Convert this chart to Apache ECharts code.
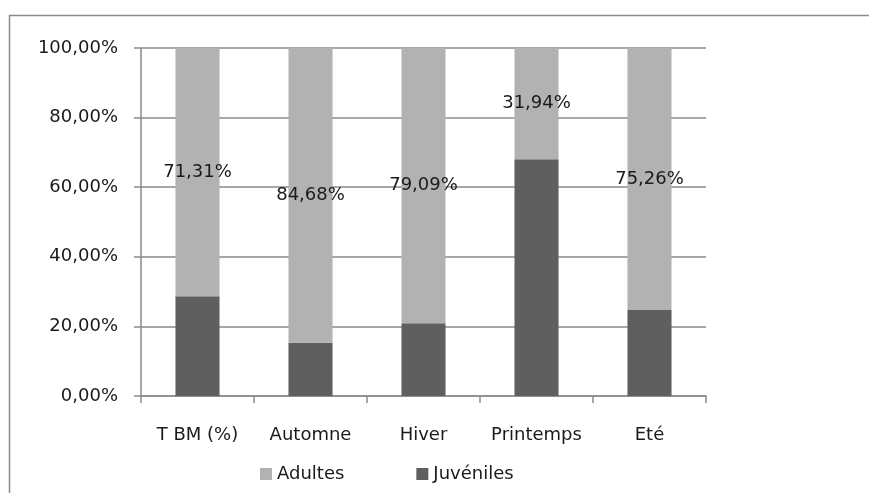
<!DOCTYPE html>
<html>
<head>
<meta charset="utf-8">
<script src="https://cdn.jsdelivr.net/npm/echarts@6/dist/echarts.min.js"></script>
<style>html,body{margin:0;padding:0;background:#fff;}#c{width:869px;height:493px;}</style>
</head>
<body>
<div id="c"></div>
<script>
const categories = ['T BM (%)', 'Automne', 'Hiver', 'Printemps', 'Eté'];
const adultes = [71.31, 84.68, 79.09, 31.94, 75.26];
const juveniles = [28.69, 15.32, 20.91, 68.06, 24.74];
const yTicks = [0, 20, 40, 60, 80, 100];

const FONT = 'DejaVu Sans';
const FS = 18;
const fmt = v => v.toFixed(2).replace('.', ',') + '%';

const chart = echarts.init(document.getElementById('c'), null, {renderer: 'canvas'});
chart.setOption({
  animation: false,
  backgroundColor: '#fff',
  graphic: [{
    type: 'rect',
    shape: {x: 9.5, y: 15.5, width: 900, height: 520},
    style: {fill: 'none', stroke: '#8a8a8a', lineWidth: 1.5},
    silent: true
  }],
  grid: {left: 141, right: 163, top: 48, bottom: 97, containLabel: false},
  legend: {
    left: 255, top: 460,
    itemWidth: 12, itemHeight: 12, itemGap: 72,
    icon: 'rect',
    textStyle: {fontFamily: FONT, fontSize: FS, color: '#1a1a1a'},
    data: ['Adultes', 'Juvéniles']
  },
  xAxis: {
    type: 'category',
    data: categories,
    axisLine: {lineStyle: {color: '#8a8a8a', width: 1.5}},
    axisTick: {show: true, interval: 0, length: 7, lineStyle: {color: '#8a8a8a', width: 1.5}},
    axisLabel: {interval: 0, fontFamily: FONT, fontSize: FS, color: '#1a1a1a', margin: 30}
  },
  yAxis: {
    type: 'value',
    min: yTicks[0], max: yTicks[yTicks.length - 1], interval: 20,
    axisLine: {show: true, lineStyle: {color: '#8a8a8a', width: 1.5}},
    axisTick: {show: true, length: 7, lineStyle: {color: '#8a8a8a', width: 1.5}},
    splitLine: {lineStyle: {color: '#8a8a8a', width: 1.5}},
    axisLabel: {fontFamily: FONT, fontSize: FS, color: '#1a1a1a', margin: 23, formatter: v => fmt(v)}
  },
  series: [
    {
      name: 'Juvéniles', type: 'bar', stack: 's', data: juveniles,
      barWidth: '39%',
      itemStyle: {color: '#5f5f5f'}
    },
    {
      name: 'Adultes', type: 'bar', stack: 's', data: adultes,
      barWidth: '39%',
      itemStyle: {color: '#b2b2b2'},
      label: {
        show: true, position: 'inside',
        fontFamily: FONT, fontSize: FS, color: '#1a1a1a',
        formatter: p => fmt(p.value)
      }
    }
  ]
});
</script>
</body>
</html>
